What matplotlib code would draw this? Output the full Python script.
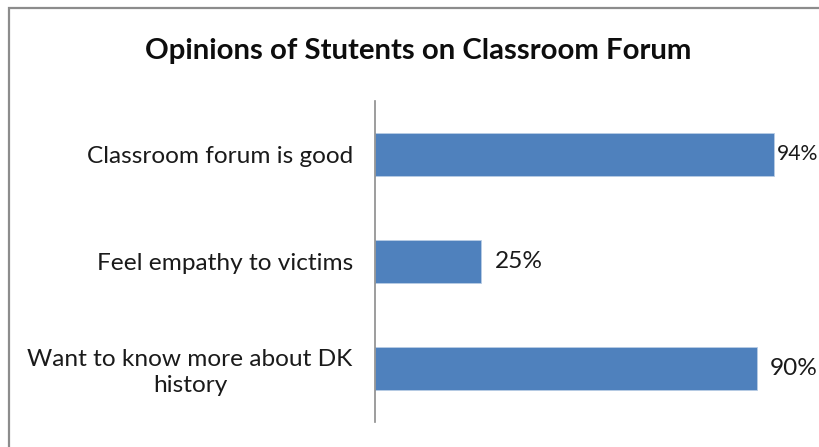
import matplotlib
matplotlib.use("Agg")
import matplotlib.pyplot as plt
from matplotlib.patches import Rectangle

categories = ["Classroom forum is good", "Feel empathy to victims", "Want to know more about DK\nhistory"]
values = [94, 25, 90]
value_labels = ["94%", "25%", "90%"]
title = "Opinions of Stutents on Classroom Forum"

plt.rcParams['font.family'] = ['Lato', 'DejaVu Sans']

W, H = 820, 447
fig = plt.figure(figsize=(W / 100, H / 100), dpi=100)

# outer chart border (top and left visible)
fig.add_artist(Rectangle((9 / W, -0.1), 1.2, 1 - 8 / H + 0.1, transform=fig.transFigure,
                         fill=False, edgecolor="#8c8c8c", linewidth=1.6))

ax_left, ax_right = 375 / W, 800 / W
ax_top, ax_bottom = 1 - 101 / H, 1 - 422 / H
ax = fig.add_axes([ax_left, ax_bottom, ax_right - ax_left, ax_top - ax_bottom])

y = list(range(len(categories)))[::-1]
ax.barh(y, values, height=0.4, color="#4F81BD", edgecolor="#b9cde5", linewidth=0.6)
ax.set_xlim(0, 100)
ax.set_ylim(-0.5, len(categories) - 0.5)

for s in ["top", "right", "bottom"]:
    ax.spines[s].set_visible(False)
ax.spines["left"].set_color("#8c8c8c")
ax.spines["left"].set_linewidth(1.2)
ax.set_xticks([])
ax.set_yticks(y)
ax.set_yticklabels(categories, fontsize=17.6, color="#1a1a1a", multialignment="center",
                   linespacing=1.25)
ax.tick_params(axis="y", length=0, pad=16)

fig.canvas.draw()
renderer = fig.canvas.get_renderer()
for yi, v, lab in zip(y, values, value_labels):
    end_px = ax.transData.transform((v, yi))[0]
    fs = 17.6
    t = ax.annotate(lab, xy=(v, yi), xytext=(14, 0), textcoords="offset pixels",
                    ha="left", va="center", fontsize=fs, color="#1a1a1a", annotation_clip=False)
    w = t.get_window_extent(renderer).width
    avail = W - 2 - end_px
    off = min(14, avail - w)
    if off < 2:
        off = 2
        t.set_fontsize(fs * (avail - 2) / w)
    t.set_position((off, 0))

fig.text(418 / W, 1 - 51 / H, title, ha="center", va="center", fontsize=21.2, fontweight="bold",
         color="#0d0d0d")

fig.savefig("out.png", dpi=100)
